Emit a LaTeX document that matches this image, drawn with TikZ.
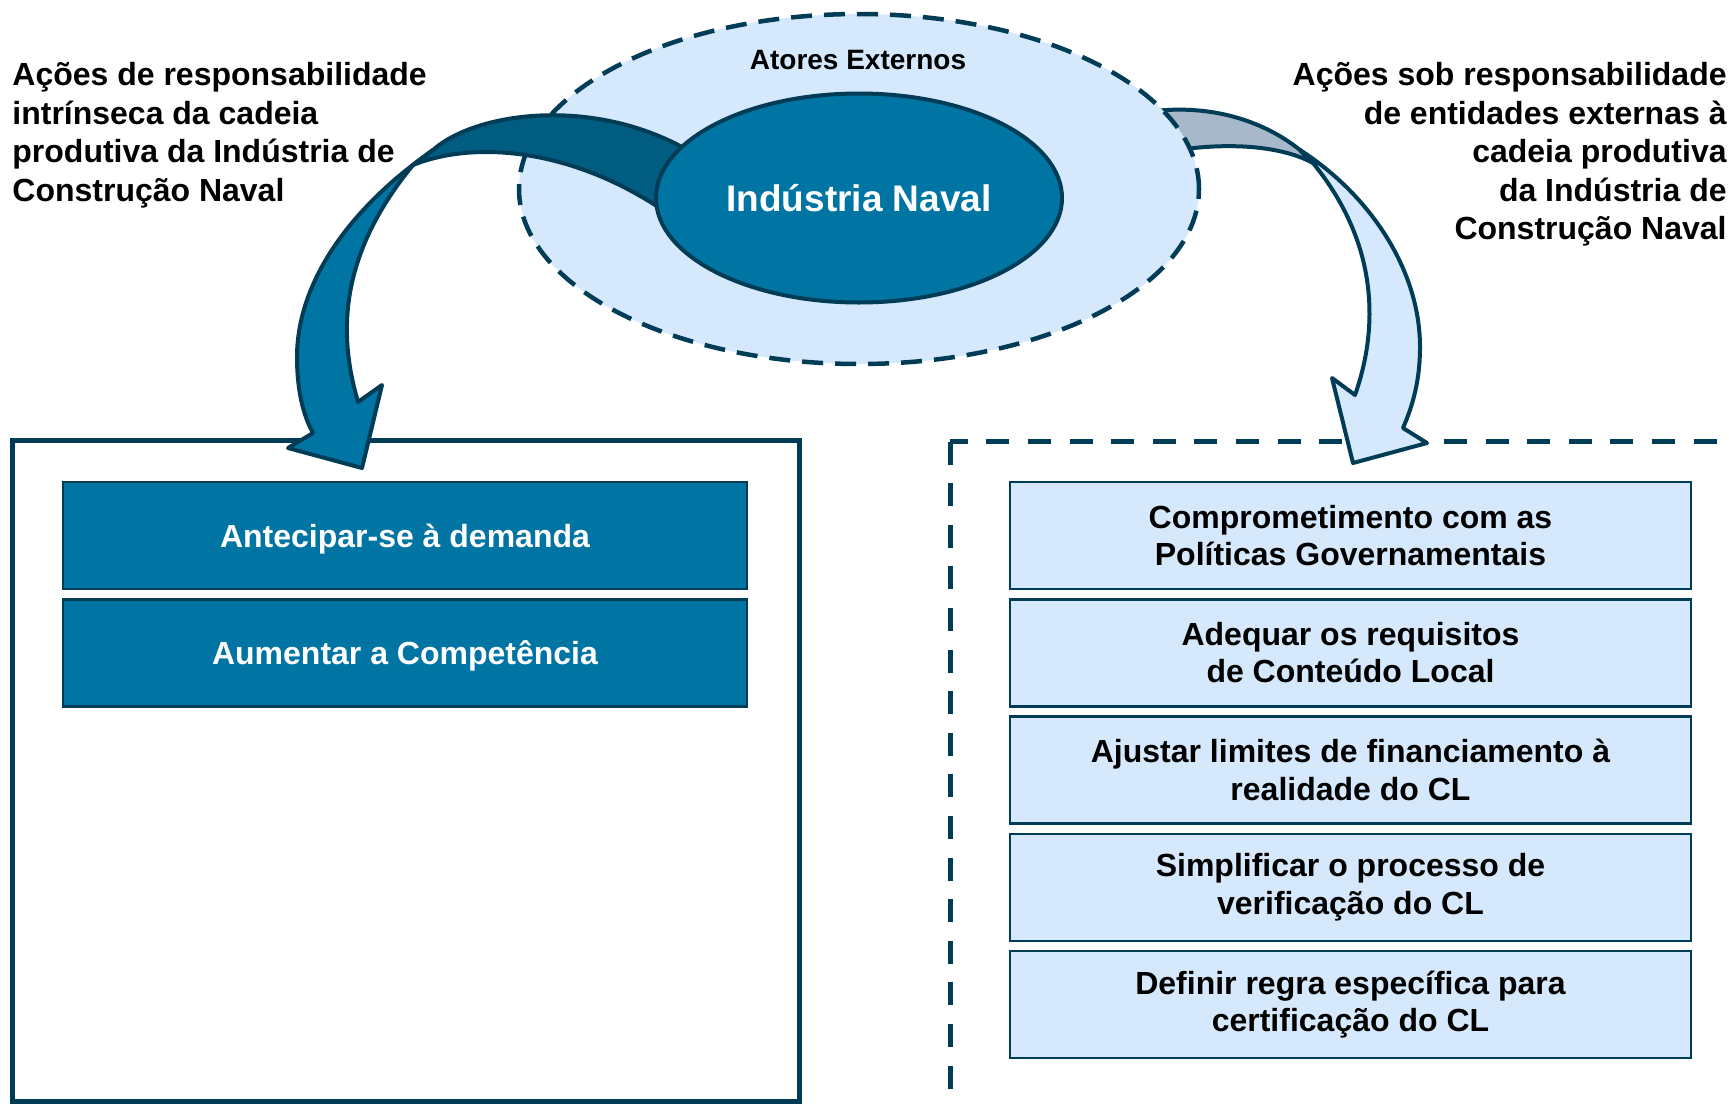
\documentclass[tikz,border=0pt]{standalone}
\usepackage{fontspec}
\setmainfont{Liberation Sans}
\usetikzlibrary{shapes.geometric}
\definecolor{cLine}{HTML}{003C55}
\definecolor{cMid}{HTML}{0074A3}
\definecolor{cDark}{HTML}{005C80}
\definecolor{cLight}{HTML}{D5E8FC}
\definecolor{cGray}{HTML}{A6B8CA}
\begin{document}
\begin{tikzpicture}[x=0.5pt,y=-0.5pt,
  frame/.style={draw=cLine,line width=2.5pt},
  innerbox/.style={draw=cLine,line width=1.3pt,minimum height=53.5pt,inner sep=0pt,align=center,
    font=\bfseries\fontsize{16}{18.75}\selectfont},
  darkbox/.style={innerbox,fill=cMid,text=white,minimum width=342pt,text height=11.5pt,text depth=0pt},
  lightbox/.style={innerbox,fill=cLight,text=black,minimum width=340.5pt},
  arrowline/.style={draw=cLine,line width=2pt,line join=round},
  head/.style={font=\bfseries\fontsize{16}{19.25}\selectfont,inner sep=0pt}]
\useasboundingbox (0,0) rectangle (1729,1104);
% frames
\draw[frame] (12.5,440) rectangle (799,1101);
\draw[frame,dash pattern=on 11.5pt off 9.3pt] (950,441.5) rectangle (1790,1108);
% boxes
\node[darkbox] (l1) at (405,535.5) {Antecipar-se à demanda};
\node[darkbox] (l2) at (405,653) {Aumentar a Competência};
\node[lightbox] (r1) at (1350.5,535.5) {Comprometimento com as\\Políticas Governamentais};
\node[lightbox] (r2) at (1350.5,652.8) {Adequar os requisitos\\de Conteúdo Local};
\node[lightbox] (r3) at (1350.5,770) {Ajustar limites de financiamento à\\realidade do CL};
\node[lightbox] (r4) at (1350.5,887.3) {Simplificar o processo de\\verificação do CL};
\node[lightbox] (r5) at (1350.5,1004.5) {Definir regra específica para\\certificação do CL};
% right arrow (behind outer ellipse)
\path[arrowline,fill=cGray] (1130,115) .. controls (1200,100) and (1260,118) .. (1300,150)
  -- (1313,163) .. controls (1280,145) and (1220,140) .. (1150,155) -- cycle;
\path[arrowline,fill=cLight] (1300,150) .. controls (1370,195) and (1420,270) .. (1420,347)
  .. controls (1420,380) and (1413,405) .. (1403,428) -- (1427,443) -- (1353,463) -- (1332,378)
  -- (1355,395) .. controls (1378,330) and (1380,245) .. (1313,163) -- cycle;
% outer ellipse
\node[ellipse,draw=cLine,fill=cLight,line width=2.25pt,dash pattern=on 10.5pt off 6pt,
  minimum width=340pt,minimum height=175pt,inner sep=0pt] (atores) at (859,189) {};
% left arrow
\path[arrowline,fill=cDark] (433,150) .. controls (480,108) and (620,92) .. (720,172)
  -- (690,230) .. controls (590,150) and (480,138) .. (413,165) -- cycle;
\path[arrowline,fill=cMid] (433,150) .. controls (340,215) and (297,290) .. (297,357)
  .. controls (297,390) and (303,415) .. (313,433) -- (288,448) -- (362,468) -- (382,385)
  -- (358,402) .. controls (340,340) and (335,260) .. (413,165) -- cycle;
% inner ellipse
\node[ellipse,draw=cLine,fill=cMid,line width=2pt,minimum width=203pt,minimum height=104.5pt,
  inner sep=0pt,text=white,font=\bfseries\fontsize{18.5}{22}\selectfont] (naval) at (859,198) {Indústria Naval};
\node[font=\bfseries\fontsize{14}{17}\selectfont,inner sep=0pt,anchor=base] (atorestxt) at (858,69.5) {Atores Externos};
% side notes (base anchor = baseline of last line)
\node[head,anchor=base west,align=left] (leftnote) at (12,201)
  {Ações de responsabilidade\\intrínseca da cadeia\\produtiva da Indústria de\\Construção Naval};
\node[head,anchor=base east,align=right] (rightnote) at (1727,239.5)
  {Ações sob responsabilidade\\de entidades externas à\\cadeia produtiva\\da Indústria de\\Construção Naval};
\end{tikzpicture}
\end{document}
